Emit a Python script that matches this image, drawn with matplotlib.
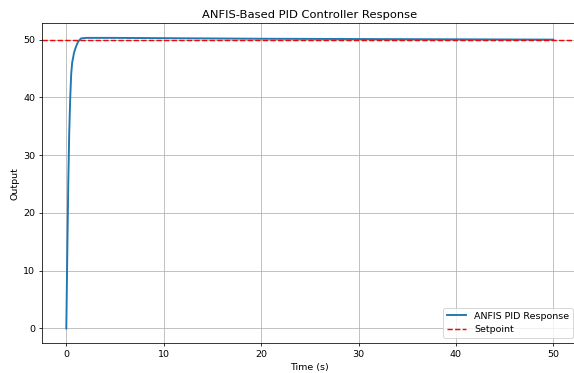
import numpy as np
import matplotlib
matplotlib.use('Agg')
import matplotlib.pyplot as plt

# lectura aproximada de la curva
t = [0, 0.1, 0.2, 0.3, 0.4, 0.5, 0.6, 0.8, 1.0, 1.2, 1.5, 2, 3, 5, 10, 20, 30, 40, 50]
y = [0, 13, 25, 34, 39.8, 44, 46, 47.8, 48.8, 49.6, 50.2, 50.3, 50.3, 50.3, 50.25, 50.15, 50.1, 50.05, 50.0]
setpoint = 50

dpi = 68.8
fig = plt.figure(figsize=(574 / dpi, 373 / dpi), dpi=dpi)
ax = fig.add_axes([0.0731, 0.0804, 0.9334, 0.857])
ax.plot(t, y, label='ANFIS PID Response', linewidth=2)
ax.axhline(setpoint, color='r', linestyle='--', label='Setpoint')
ax.set_title('ANFIS-Based PID Controller Response')
ax.set_xlabel('Time (s)')
ax.set_ylabel('Output')
ax.legend(loc='lower right')
ax.grid(True)
fig.savefig('out.png', dpi=dpi)
